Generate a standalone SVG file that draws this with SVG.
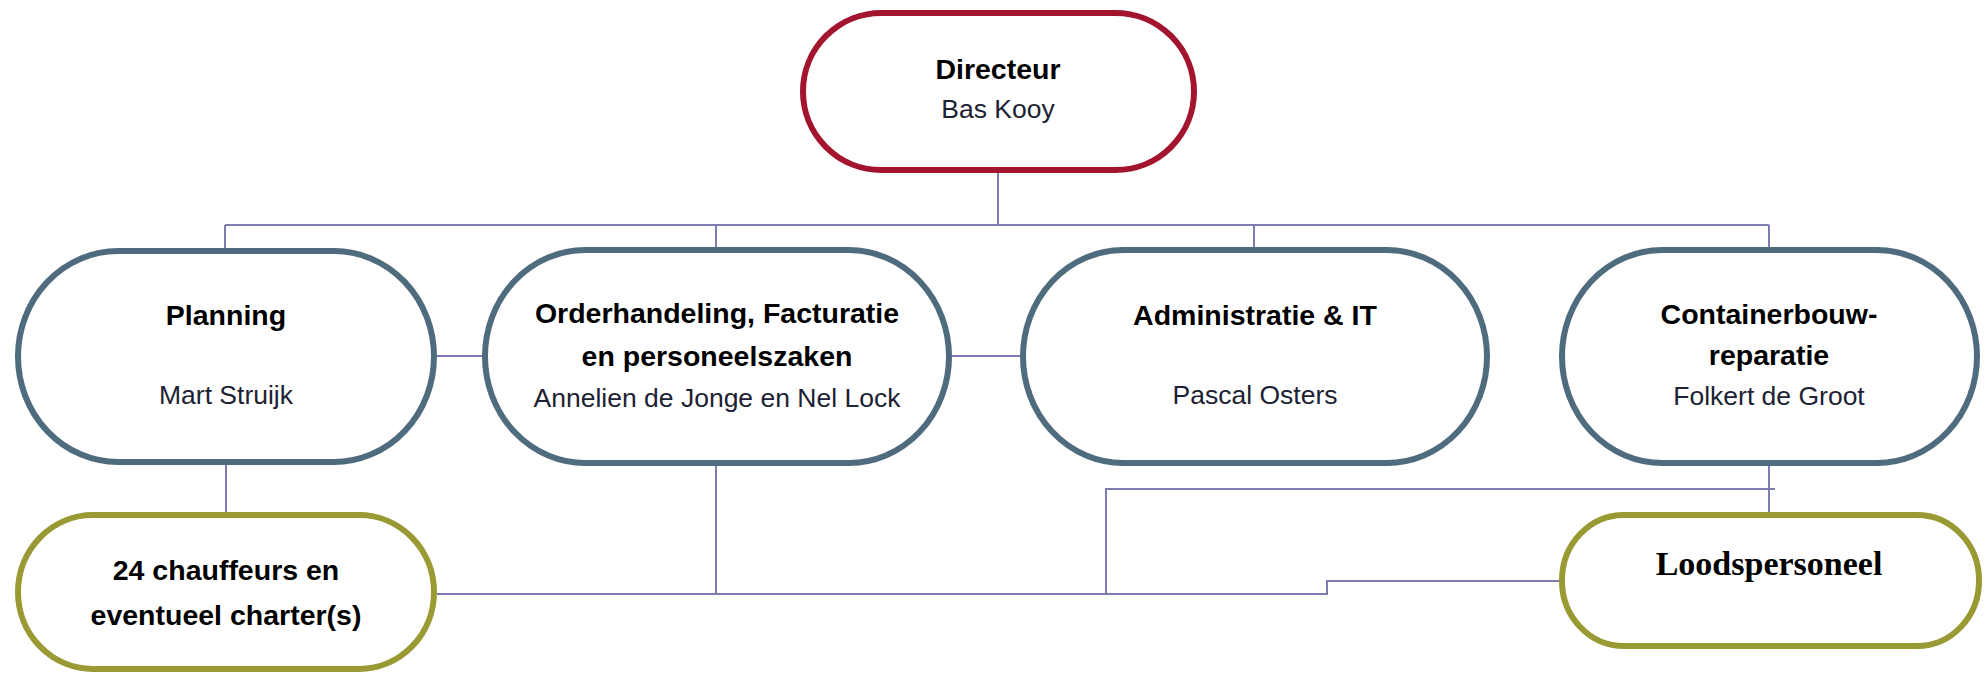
<svg xmlns="http://www.w3.org/2000/svg" width="1984" height="673" viewBox="0 0 1984 673">
  <style>
    .box { fill: #ffffff; stroke-width: 6; }
    .top { stroke: #a3142e; }
    .dept { stroke: #4f6b7e; }
    .staff { stroke: #999a33; }
    .head { font-family: "Liberation Sans", Arial, sans-serif; font-weight: bold; font-size: 28.5px; fill: #000000; text-anchor: middle; }
    .name { font-family: "Liberation Sans", Arial, sans-serif; font-size: 26.5px; fill: #1c2233; text-anchor: middle; }
    .serif { font-family: "Liberation Serif", "Times New Roman", serif; font-weight: bold; font-size: 34px; fill: #000000; text-anchor: middle; }
    .link { fill: none; stroke: #7d7db4; stroke-width: 2; }
  </style>
  <rect width="1984" height="673" fill="#ffffff"/>

  <!-- reporting lines -->
  <g id="connectors">
    <path class="link" d="M998 173 V225"/>
    <path class="link" d="M225 225 H1769"/>
    <path class="link" d="M225 225 V248"/>
    <path class="link" d="M716 225 V247"/>
    <path class="link" d="M1254 225 V247"/>
    <path class="link" d="M1769 225 V247"/>
    <path class="link" d="M437 356 H482"/>
    <path class="link" d="M952 356 H1020"/>
    <path class="link" d="M226 465 V512"/>
    <path class="link" d="M716 466 V594"/>
    <path class="link" d="M437 594 H1327 V581 H1559"/>
    <path class="link" d="M1106 594 V489 H1775"/>
    <path class="link" d="M1769 466 V512"/>
  </g>

  <g id="directeur">
    <rect class="box top" x="803" y="13" width="391" height="157" rx="78.5"/>
    <text class="head" x="998" y="79">Directeur</text>
    <text class="name" x="998" y="118">Bas Kooy</text>
  </g>

  <g id="planning">
    <rect class="box dept" x="18" y="251" width="416" height="211" rx="100" ry="105.5"/>
    <text class="head" x="226" y="325">Planning</text>
    <text class="name" x="226" y="404">Mart Struijk</text>
  </g>

  <g id="orderhandeling">
    <rect class="box dept" x="485" y="250" width="464" height="213" rx="100" ry="106.5"/>
    <text class="head" x="717" y="323">Orderhandeling, Facturatie</text>
    <text class="head" x="717" y="366">en personeelszaken</text>
    <text class="name" x="717" y="407">Annelien de Jonge en Nel Lock</text>
  </g>

  <g id="administratie">
    <rect class="box dept" x="1023" y="250" width="464" height="213" rx="100" ry="106.5"/>
    <text class="head" x="1255" y="325">Administratie &amp; IT</text>
    <text class="name" x="1255" y="404">Pascal Osters</text>
  </g>

  <g id="containerbouw">
    <rect class="box dept" x="1562" y="250" width="415" height="213" rx="100" ry="106.5"/>
    <text class="head" x="1769" y="324">Containerbouw-</text>
    <text class="head" x="1769" y="365">reparatie</text>
    <text class="name" x="1769" y="405">Folkert de Groot</text>
  </g>

  <g id="chauffeurs">
    <rect class="box staff" x="18" y="515" width="416" height="154" rx="75" ry="77"/>
    <text class="head" x="226" y="580">24 chauffeurs en</text>
    <text class="head" x="226" y="625">eventueel charter(s)</text>
  </g>

  <g id="loodspersoneel">
    <rect class="box staff" x="1562" y="515" width="417" height="131" rx="62" ry="65"/>
    <text class="serif" x="1769" y="575">Loodspersoneel</text>
  </g>
</svg>
